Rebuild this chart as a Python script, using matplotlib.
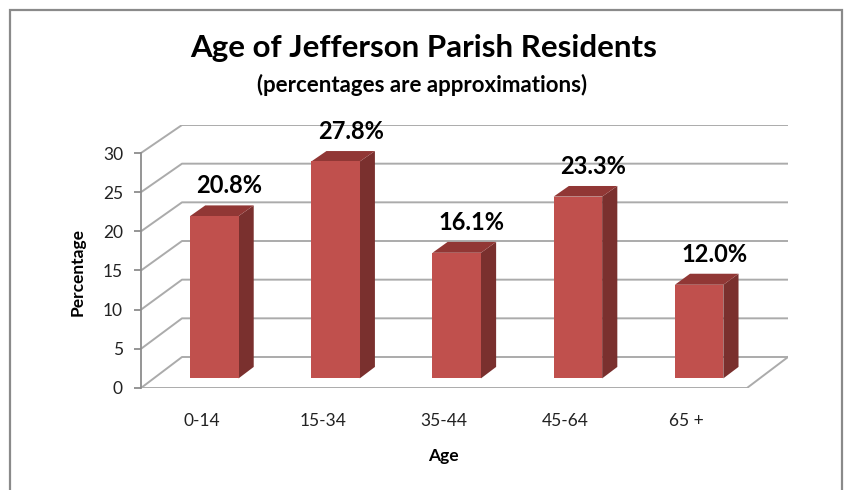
import matplotlib
matplotlib.use("Agg")
import matplotlib.pyplot as plt
from matplotlib.patches import Polygon, Rectangle

categories = ["0-14", "15-34", "35-44", "45-64", "65 +"]
values = [20.8, 27.8, 16.1, 23.3, 12.0]
labels = ["20.8%", "27.8%", "16.1%", "23.3%", "12.0%"]
yticks = [0, 5, 10, 15, 20, 25, 30]

FONT = ["Lato", "DejaVu Sans"]
W, H = 846, 490
fig = plt.figure(figsize=(W / 100, H / 100), dpi=100)

# plot box in pixels: front-left bottom (141, 388), back-right top (788, 125)
L, R, B, T = 141, 788, 388, 125
ax = fig.add_axes([L / W, 1 - B / H, (R - L) / W, (B - T) / H])

n = len(categories)
ymax = 30
dXpx, dYpx = 41, 31
px_per_x = (R - L - dXpx) / n
px_per_y = (B - 153) / ymax
dX = dXpx / px_per_x           # depth offset (x units)
dY = dYpx / px_per_y           # depth offset (y units)
k = 1 - (B - dYpx - T) / (ymax * px_per_y)   # perspective shrink at the back


def proj(xc, v, d):
    """Oblique projection: category position xc, value v, depth d in [0,1]."""
    return xc + d * dX, v * (1 - k * d) + d * dY


ax.set_xlim(-0.5, n - 0.5 + dX)
ax.set_ylim(0, proj(0, ymax, 1)[1])

grid_c = "#ababab"
for v in yticks:
    pts = [proj(-0.5, v, 0), proj(-0.5, v, 1), proj(n - 0.5, v, 1)]
    ax.plot(*zip(*pts), color=grid_c, lw=1.4, zorder=1, solid_capstyle="butt")
floor = [proj(-0.5, 0, 0), proj(n - 0.5, 0, 0), proj(n - 0.5, 0, 1)]
ax.plot(*zip(*floor), color=grid_c, lw=1.4, zorder=1)

# bars
d0, d1 = 0.31, 0.68
bw = 0.4
front_c, side_c, top_c = "#c0504d", "#7a302e", "#913735"
for i, v in enumerate(values):
    xa, xb = i - bw / 2, i + bw / 2
    fbl, fbr = proj(xa, 0, d0), proj(xb, 0, d0)
    ftl, ftr = proj(xa, v, d0), proj(xb, v, d0)
    bbr = proj(xb, 0, d1)
    btl, btr = proj(xa, v, d1), proj(xb, v, d1)
    ax.add_patch(Polygon([fbr, bbr, btr, ftr], closed=True,
                         facecolor=side_c, edgecolor="none", zorder=3))
    ax.add_patch(Polygon([ftl, ftr, btr, btl], closed=True,
                         facecolor=top_c, edgecolor="none", zorder=3))
    ax.add_patch(Polygon([fbl, fbr, ftr, ftl], closed=True,
                         facecolor=front_c, edgecolor="none", zorder=4))
    lx, ly = proj(i, v, d1)
    ax.annotate(labels[i], xy=(lx, ly), xytext=(0, 14),
                textcoords="offset points", ha="center", va="center",
                fontsize=17, fontweight="bold", family=FONT, color="black", zorder=5)

for s in ["top", "right", "bottom"]:
    ax.spines[s].set_visible(False)
ax.spines["left"].set_bounds(0, ymax)
ax.spines["left"].set_color("#8c8c8c")
ax.spines["left"].set_linewidth(1.3)
ax.set_yticks(yticks)
ax.set_yticklabels([str(t) for t in yticks], family=FONT, fontsize=12.5, color="#222222")
ax.tick_params(axis="y", direction="out", length=5, color="#8c8c8c", width=1.3, pad=8)
ax.set_xticks(range(n))
ax.set_xticklabels(categories, family=FONT, fontsize=12.5, color="#222222")
ax.tick_params(axis="x", length=0, pad=18)
ax.patch.set_alpha(0)

fig.text(443 / W, 1 - 456 / H, "Age", ha="center", va="center",
         fontsize=12.5, fontweight="bold", family=FONT)
fig.text(78 / W, 1 - 272 / H, "Percentage", ha="center", va="center", rotation=90,
         fontsize=12.5, fontweight="bold", family=FONT)
fig.text(424 / W, 1 - 48 / H, "Age of Jefferson Parish Residents", ha="center", va="center",
         fontsize=22.5, fontweight="bold", family=FONT)
fig.text(422 / W, 1 - 85 / H, "(percentages are approximations)", ha="center", va="center",
         fontsize=16, fontweight="bold", family=FONT)

fig.add_artist(Rectangle((10 / W, -0.05), (842 - 10) / W, 1.05 - 10 / H,
                         transform=fig.transFigure, facecolor="none",
                         edgecolor="#8a8a8a", lw=1.6, clip_on=False))

fig.savefig("out.png", dpi=100)
